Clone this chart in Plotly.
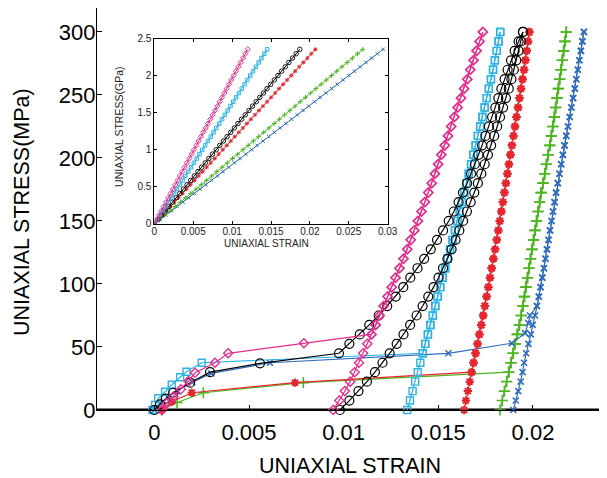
import plotly.graph_objects as go

# ---------------- main plot data (strain, stress in MPa) ----------------
curve_stress = [0, 7.5, 15, 22.5, 30, 37.5, 45, 52.5, 60, 67.5, 75, 82.5, 90, 97.5, 105,
                112.5, 120, 127.5, 135, 142.5, 150, 157.5, 165, 172.5, 180, 187.5, 195,
                202.5, 210, 217.5, 225, 232.5, 240, 247.5, 255, 262.5, 270, 277.5, 285,
                292.5, 300]

# magenta (diamonds)
mag_load_strain = [0.0004, 0.00065, 0.001, 0.0014, 0.0018, 0.00215, 0.0032, 0.0039, 0.0079]
mag_load_stress = [0, 5.3, 10.6, 16.4, 23, 29.5, 37.5, 45, 53]
mag_curve_strain = [0.00945, 0.00977, 0.01006, 0.01034, 0.01058, 0.01081, 0.01103, 0.01125,
                    0.01147, 0.01169, 0.01190, 0.01211, 0.01232, 0.01254, 0.01274, 0.01295,
                    0.01316, 0.01336, 0.01354, 0.01373, 0.01392, 0.01411, 0.01429, 0.01447,
                    0.01465, 0.01482, 0.01499, 0.01516, 0.01534, 0.01551, 0.01568, 0.01585,
                    0.01602, 0.01620, 0.01636, 0.01653, 0.01669, 0.01686, 0.01702, 0.01718,
                    0.01735]

# cyan (squares)
cya_load_strain = [-0.0001, 0.00004, 0.0002, 0.00057, 0.00092, 0.00136, 0.0017, 0.0025]
cya_load_stress = [0, 4, 9.3, 14.5, 20, 26, 30.4, 37.5]
cya_curve_strain = [0.01336, 0.01350, 0.01364, 0.01378, 0.01391, 0.01405, 0.01418, 0.01431,
                    0.01445, 0.01458, 0.01471, 0.01484, 0.01497, 0.01510, 0.01523, 0.01536,
                    0.01549, 0.01562, 0.01575, 0.01588, 0.01601, 0.01613, 0.01625, 0.01637,
                    0.01649, 0.01661, 0.01673, 0.01685, 0.01697, 0.01709, 0.01721, 0.01733,
                    0.01745, 0.01756, 0.01767, 0.01778, 0.01789, 0.01799, 0.01809, 0.01818,
                    0.01827]

# black (circles): plateau, loading branch (from 45 MPa) and unloading branch
blk_load_strain = [0, 0.0003, 0.0006, 0.001, 0.00189, 0.00294, 0.00558]
blk_load_stress = [0, 4.5, 9, 13.7, 21.7, 30, 37]
blk_up_stress = [45, 52.5, 60, 67.5, 75, 82.5, 90, 97.5, 105, 112.5, 120, 127.5, 135, 142.5,
                 150, 157.5, 165, 172.5, 180, 187.5, 195, 202.5, 210, 217.5, 225, 232.5, 240,
                 247.5, 255, 262.5, 270, 277.5, 285, 292.5, 300]
blk_up_strain = [0.00975, 0.01030, 0.01085, 0.01135, 0.01185, 0.01230, 0.01275, 0.01315,
                 0.01352, 0.01390, 0.01425, 0.01460, 0.01493, 0.01525, 0.01555, 0.01582,
                 0.01607, 0.01630, 0.01652, 0.01673, 0.01693, 0.01712, 0.01731, 0.01749,
                 0.01767, 0.01784, 0.01801, 0.01817, 0.01833, 0.01850, 0.01866, 0.01884,
                 0.01903, 0.01924, 0.01947]
blk_down_strain = [0.00980, 0.01030, 0.01078, 0.01123, 0.01165, 0.01205, 0.01243, 0.01280,
                   0.01316, 0.01351, 0.01385, 0.01417, 0.01447, 0.01475, 0.01501, 0.01525,
                   0.01548, 0.01570, 0.01591, 0.01611, 0.01631, 0.01651, 0.01671, 0.01690,
                   0.01709, 0.01727, 0.01745, 0.01762, 0.01779, 0.01795, 0.01811, 0.01826,
                   0.01842, 0.01857, 0.01872, 0.01886, 0.01899, 0.01912, 0.01924, 0.01936,
                   0.01947]

# red (asterisks)
red_load_strain = [0.00039, 0.00092, 0.00198, 0.00743]
red_load_stress = [0, 6.6, 13.7, 21.7]
red_curve_strain = [0.01636, 0.01646, 0.01656, 0.01666, 0.01676, 0.01686, 0.01697, 0.01707,
                    0.01717, 0.01727, 0.01737, 0.01746, 0.01755, 0.01764, 0.01773, 0.01782,
                    0.01791, 0.01800, 0.01809, 0.01817, 0.01825, 0.01833, 0.01841, 0.01849,
                    0.01857, 0.01865, 0.01873, 0.01881, 0.01889, 0.01897, 0.01905, 0.01913,
                    0.01921, 0.01929, 0.01937, 0.01945, 0.01953, 0.01960, 0.01967, 0.01974,
                    0.01981]

# green (plus)
grn_load_strain = [0.00039, 0.0012, 0.00259, 0.00787]
grn_load_stress = [0, 6, 13.7, 21.7]
grn_curve_strain = [0.01826, 0.01838, 0.01849, 0.01861, 0.01872, 0.01884, 0.01895, 0.01906,
                    0.01917, 0.01928, 0.01938, 0.01947, 0.01955, 0.01963, 0.01971, 0.01979,
                    0.01987, 0.01995, 0.02003, 0.02011, 0.02019, 0.02027, 0.02035, 0.02043,
                    0.02053, 0.02062, 0.02071, 0.02080, 0.02089, 0.02097, 0.02105, 0.02113,
                    0.02120, 0.02127, 0.02134, 0.02141, 0.02148, 0.02155, 0.02162, 0.02169,
                    0.02176]

# blue (x)
blu_load_strain = [0, 0.0003, 0.0007, 0.0012, 0.002, 0.003, 0.0061, 0.01553, 0.01888,
                   0.01958, 0.01975, 0.01984]
blu_load_stress = [0, 5, 10, 15, 22, 29, 37.5, 45, 53, 61, 69, 75]
blu_curve_strain = [0.01896, 0.01909, 0.01922, 0.01935, 0.01945, 0.01953, 0.01964, 0.01976,
                    0.01989, 0.01999, 0.02011, 0.02021, 0.02031, 0.02040, 0.02049, 0.02058,
                    0.02066, 0.02074, 0.02082, 0.02090, 0.02098, 0.02106, 0.02114, 0.02122,
                    0.02131, 0.02140, 0.02149, 0.02158, 0.02167, 0.02176, 0.02185, 0.02194,
                    0.02203, 0.02212, 0.02221, 0.02229, 0.02237, 0.02245, 0.02253, 0.02261,
                    0.02269]

# ---------------- inset data (strain, stress in GPa) ----------------
inset_stress = [0, 0.059, 0.118, 0.177, 0.236, 0.295, 0.354, 0.413, 0.472, 0.531, 0.59,
                0.649, 0.708, 0.767, 0.826, 0.885, 0.944, 1.003, 1.062, 1.121, 1.18, 1.239,
                1.298, 1.357, 1.416, 1.475, 1.534, 1.593, 1.652, 1.711, 1.77, 1.829, 1.888,
                1.947, 2.006, 2.065, 2.124, 2.183, 2.242, 2.301, 2.36]
in_mag = [0, 0.0003, 0.0006, 0.0009, 0.0012, 0.0015, 0.0018, 0.0021, 0.0024, 0.0027, 0.003,
          0.0033, 0.0036, 0.0039, 0.0042, 0.0045, 0.0048, 0.0051, 0.0054, 0.0057, 0.006,
          0.0063, 0.0066, 0.0069, 0.0072, 0.0075, 0.0078, 0.0081, 0.0084, 0.0087, 0.009,
          0.0093, 0.0096, 0.0099, 0.0102, 0.0105, 0.0108, 0.0111, 0.0114, 0.0117, 0.012]
in_cya = [0, 0.00036, 0.00073, 0.00109, 0.00145, 0.00181, 0.00218, 0.00254, 0.0029, 0.00326,
          0.00363, 0.00399, 0.00435, 0.00471, 0.00508, 0.00544, 0.0058, 0.00616, 0.00653,
          0.00689, 0.00725, 0.00761, 0.00798, 0.00834, 0.0087, 0.00906, 0.00943, 0.00979,
          0.01015, 0.01051, 0.01088, 0.01124, 0.0116, 0.01196, 0.01233, 0.01269, 0.01305,
          0.01341, 0.01378, 0.01414, 0.0145]
in_blk = [0, 0.00047, 0.00094, 0.0014, 0.00187, 0.00234, 0.00281, 0.00327, 0.00374, 0.00421,
          0.00468, 0.00514, 0.00561, 0.00608, 0.00655, 0.00701, 0.00748, 0.00795, 0.00842,
          0.00888, 0.00935, 0.00982, 0.01029, 0.01075, 0.01122, 0.01169, 0.01216, 0.01262,
          0.01309, 0.01356, 0.01403, 0.01449, 0.01496, 0.01543, 0.0159, 0.01636, 0.01683,
          0.0173, 0.01777, 0.01823, 0.0187]
in_red = [0, 0.00052, 0.00104, 0.00155, 0.00207, 0.00259, 0.00311, 0.00362, 0.00414, 0.00466,
          0.00518, 0.00569, 0.00621, 0.00673, 0.00725, 0.00776, 0.00828, 0.0088, 0.00932,
          0.00983, 0.01035, 0.01087, 0.01139, 0.0119, 0.01242, 0.01294, 0.01346, 0.01397,
          0.01449, 0.01501, 0.01553, 0.01604, 0.01656, 0.01708, 0.0176, 0.01811, 0.01863,
          0.01915, 0.01967, 0.02018, 0.0207]
in_grn = [0, 0.00067, 0.00134, 0.00201, 0.00268, 0.00335, 0.00402, 0.00469, 0.00536, 0.00603,
          0.0067, 0.00737, 0.00804, 0.00871, 0.00938, 0.01005, 0.01072, 0.01139, 0.01206,
          0.01273, 0.0134, 0.01407, 0.01474, 0.01541, 0.01608, 0.01675, 0.01742, 0.01809,
          0.01876, 0.01943, 0.0201, 0.02077, 0.02144, 0.02211, 0.02278, 0.02345, 0.02412,
          0.02479, 0.02546, 0.02613, 0.0268]
in_blu = [0, 0.00074, 0.00147, 0.00221, 0.00294, 0.00368, 0.00441, 0.00515, 0.00588, 0.00662,
          0.00735, 0.00809, 0.00882, 0.00956, 0.01029, 0.01103, 0.01176, 0.0125, 0.01323,
          0.01397, 0.0147, 0.01544, 0.01617, 0.01691, 0.01764, 0.01838, 0.01911, 0.01985,
          0.02058, 0.02132, 0.02205, 0.02279, 0.02352, 0.02426, 0.02499, 0.02573, 0.02646,
          0.0272, 0.02793, 0.02867, 0.0294]

x_ticks = [0, 0.005, 0.01, 0.015, 0.02]
x_tick_labels = ["0", "0.005", "0.01", "0.015", "0.02"]
y_ticks = [0, 50, 100, 150, 200, 250, 300]
in_x_ticks = [0, 0.005, 0.01, 0.015, 0.02, 0.025, 0.03]
in_x_labels = ["0", "0.005", "0.01", "0.015", "0.02", "0.025", "0.03"]
in_y_ticks = [0, 0.5, 1, 1.5, 2, 2.5]
in_y_labels = ["0", "0.5", "1", "1.5", "2", "2.5"]

MAG = "#E62E8B"
CYA = "#2CB3E6"
BLK = "#000000"
RED = "#E6262E"
GRN = "#4DB520"
BLU = "#2F6CBE"

FONT = "Liberation Sans, Arial, Helvetica, sans-serif"

fig = go.Figure()


def idx(val):
    return curve_stress.index(val)


def main_trace(xs, ys, color, symbol, size, mlw=1.3):
    fig.add_trace(go.Scatter(
        x=xs, y=ys, mode="lines+markers", cliponaxis=False,
        line=dict(color=color, width=1.2),
        marker=dict(symbol=symbol, size=size, color=color, line=dict(color=color, width=mlw)),
        showlegend=False, xaxis="x", yaxis="y"))


# green
i = idx(30)
main_trace(grn_load_strain + grn_curve_strain[i:], grn_load_stress + curve_stress[i:],
           GRN, "cross-thin-open", 8, 1.6)
main_trace(grn_curve_strain[::-1], curve_stress[::-1], GRN, "cross-thin-open", 8, 1.6)
# blue
i = idx(82.5)
main_trace(blu_load_strain + blu_curve_strain[i:], blu_load_stress + curve_stress[i:],
           BLU, "x-thin-open", 6, 1.6)
main_trace(blu_curve_strain[::-1], curve_stress[::-1], BLU, "x-thin-open", 6, 1.6)
# red
i = idx(30)
main_trace(red_load_strain + red_curve_strain[i:], red_load_stress + curve_stress[i:],
           RED, "asterisk-open", 7, 2.0)
main_trace(red_curve_strain[::-1], curve_stress[::-1], RED, "asterisk-open", 7, 2.0)
# cyan
i = idx(45)
main_trace(cya_load_strain + cya_curve_strain[i:], cya_load_stress + curve_stress[i:],
           CYA, "square-open", 7, 1.4)
main_trace(cya_curve_strain[::-1], curve_stress[::-1], CYA, "square-open", 7, 1.4)
# black
main_trace(blk_load_strain + blk_up_strain, blk_load_stress + blk_up_stress,
           BLK, "circle-open", 9, 1.2)
main_trace(blk_down_strain[::-1], curve_stress[::-1], BLK, "circle-open", 9, 1.2)
# magenta
i = idx(60)
main_trace(mag_load_strain + mag_curve_strain[i:], mag_load_stress + curve_stress[i:],
           MAG, "diamond-open", 7, 1.4)
main_trace(mag_curve_strain[::-1], curve_stress[::-1], MAG, "diamond-open", 7, 1.4)


def inset_trace(xs, color, symbol, size, mlw=1.0):
    fig.add_trace(go.Scatter(
        x=xs, y=inset_stress, mode="lines+markers",
        line=dict(color=color, width=1.0),
        marker=dict(symbol=symbol, size=size, color=color, line=dict(color=color, width=mlw)),
        showlegend=False, xaxis="x2", yaxis="y2"))


inset_trace(in_blu, BLU, "x-thin-open", 3.5)
inset_trace(in_grn, GRN, "cross-thin-open", 3.5)
inset_trace(in_red, RED, "asterisk-open", 3.5)
inset_trace(in_blk, BLK, "circle-open", 4.5, 0.9)
inset_trace(in_cya, CYA, "square-open", 3.5)
inset_trace(in_mag, MAG, "diamond-open", 4)

# The page body adds an 8 px offset, so the figure is 8 px smaller and margins shifted.
fig.update_layout(
    width=599, height=470,
    margin=dict(l=89, r=0, t=0, b=68, autoexpand=False),
    paper_bgcolor="white", plot_bgcolor="white",
    font=dict(family=FONT, color="black"),
    xaxis=dict(range=[-0.00303, 0.02391], domain=[0, 1], tickvals=x_ticks,
               ticktext=x_tick_labels, ticks="inside", ticklen=5, tickwidth=1.3,
               tickcolor="black", showline=True, linecolor="black", linewidth=1.3,
               mirror=True, showgrid=False, zeroline=False, automargin=False,
               tickfont=dict(size=22, family=FONT), ticklabelstandoff=2),
    yaxis=dict(range=[0, 319], domain=[0, 1], tickvals=y_ticks, ticks="inside",
               ticklen=5, tickwidth=1.3, tickcolor="black", showline=True,
               linecolor="black", linewidth=1.3, mirror="ticks", showgrid=False,
               zeroline=False, automargin=False, tickfont=dict(size=22, family=FONT),
               ticklabelstandoff=-4),
    xaxis2=dict(range=[0, 0.03], domain=[0.1124, 0.5700], anchor="y2", tickvals=in_x_ticks,
                ticktext=in_x_labels, ticks="inside", ticklen=3, tickwidth=1,
                tickcolor="black", showline=True, linecolor="black", linewidth=1,
                mirror="allticks", showgrid=False, zeroline=False, ticklabelstandoff=-2,
                tickfont=dict(size=10, family=FONT, color="#222")),
    yaxis2=dict(range=[0, 2.5], domain=[0.4627, 0.9229], anchor="x2", tickvals=in_y_ticks,
                ticktext=in_y_labels, ticks="inside", ticklen=3, tickwidth=1,
                tickcolor="black", showline=True, linecolor="black", linewidth=1,
                mirror="allticks", showgrid=False, zeroline=False,
                tickfont=dict(size=10, family=FONT, color="#222")),
    shapes=[dict(type="line", xref="paper", yref="y", x0=0, x1=1, y0=0, y1=0,
                 line=dict(color="black", width=3), layer="below")],
    annotations=[
        dict(text="UNIAXIAL STRAIN", xref="paper", yref="paper", x=0.496, y=-0.139,
             showarrow=False, font=dict(size=21.5, family=FONT), xanchor="center",
             yanchor="middle"),
        dict(text="UNIAXIAL STRESS(MPa)", xref="paper", yref="paper", x=-0.147, y=0.4925,
             showarrow=False, font=dict(size=21.5, family=FONT), textangle=-90,
             xanchor="center", yanchor="middle"),
        dict(text="UNIAXIAL STRAIN", xref="paper", yref="paper", x=0.3333, y=0.414,
             showarrow=False, font=dict(size=10, family=FONT, color="#222"),
             xanchor="center", yanchor="middle"),
        dict(text="UNIAXIAL STRESS(GPa)", xref="paper", yref="paper", x=0.043, y=0.704,
             showarrow=False, font=dict(size=10.5, family=FONT, color="#222"), textangle=-90,
             xanchor="center", yanchor="middle"),
    ],
)

fig.write_html("out.html")
